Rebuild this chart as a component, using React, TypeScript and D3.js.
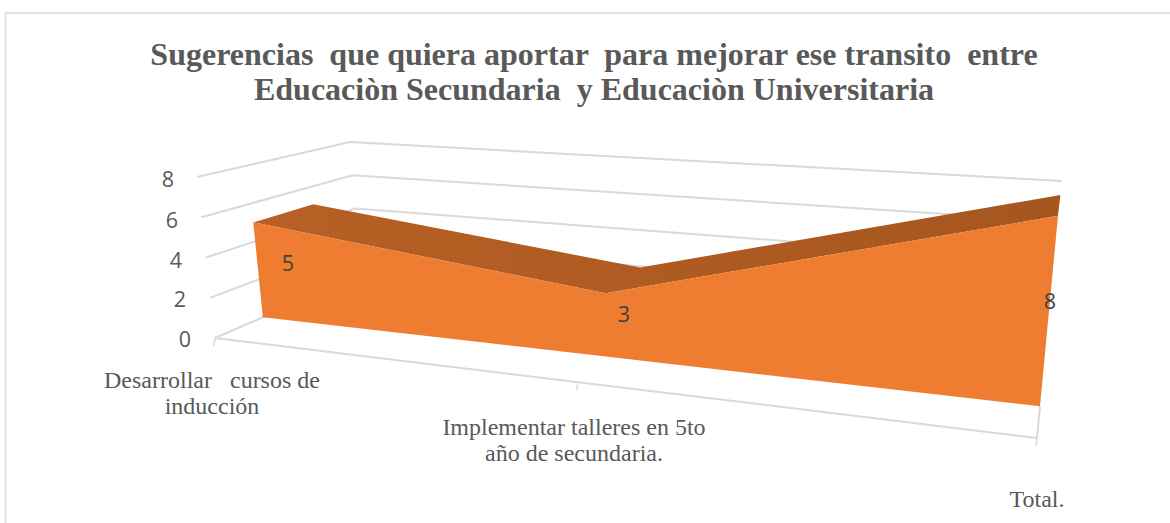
import React from "react";
import * as d3 from "d3";

const categories = ["Desarrollar cursos de inducción", "Implementar talleres en 5to año de secundaria.", "Total."];
const values = [5, 3, 8];
const yTicks = [0, 2, 4, 6, 8];
const titleLines = [
  "Sugerencias  que quiera aportar  para mejorar ese transito  entre",
  "Educaciòn Secundaria  y Educaciòn Universitaria",
];
const categoryLabelLines = [
  ["Desarrollar   cursos de", "inducción"],
  ["Implementar talleres en 5to", "año de secundaria."],
  ["Total."],
];

// Projection box: front/back, left/right, floor/top
type P = [number, number];
const FLB: P = [215, 338], FRB: P = [1037, 438], BLB: P = [360, 275], BRB: P = [1046, 342];
const FLT: P = [197, 177], FRT: P = [1056, 233], BLT: P = [350, 142], BRT: P = [1062, 181];
const PERSP = 0.79;

const uScale = d3.scalePoint<string>().domain(categories).range([0, 1]);
const vScale = d3.scaleLinear().domain([0, 8]).range([0, 1]);
const lerp = (a: P, b: P, t: number): P => [a[0] + (b[0] - a[0]) * t, a[1] + (b[1] - a[1]) * t];

function project(u: number, value: number, depth: number): P {
  const f = (u * PERSP) / (u * PERSP + (1 - u));
  const v = vScale(value);
  const bottom = lerp(lerp(FLB, FRB, f), lerp(BLB, BRB, f), depth);
  const top = lerp(lerp(FLT, FRT, f), lerp(BLT, BRT, f), depth);
  return lerp(bottom, top, v);
}

const AREA_FRONT = 0.33;
const AREA_BACK = 0.73;
const line = d3.line<P>();
const GRID = "#D9D9D9";
const TEXT = "#595959";
const SERIF = "'Liberation Serif', serif";
const SANS = "'Open Sans', sans-serif";
const us = categories.map((c) => uScale(c) as number);

const tickLabelPos: P[] = [[185, 338], [180, 298], [176, 259], [172, 219], [168, 178]];
const categoryLabelPos: { x: number; y: number }[] = [
  { x: 212, y: 388 },
  { x: 574, y: 435 },
  { x: 1037, y: 507 },
];
const dataLabelPos: P[] = [[288, 262], [624, 313], [1050, 300]];

export default function App() {
  const frontTop = us.map((u, i) => project(u, values[i], AREA_FRONT));
  const backTop = us.map((u, i) => project(u, values[i], AREA_BACK));
  const frontBottom = us.map((u) => project(u, 0, AREA_FRONT));
  const facePath = line([...frontTop, ...[...frontBottom].reverse()]) + "Z";
  const topPath = line([...frontTop, ...[...backTop].reverse()]) + "Z";

  return (
    <svg width={1170} height={523} style={{ position: "absolute", left: 0, top: 0, background: "#fff" }}>
      <defs>
        <linearGradient id="topGrad" gradientUnits="userSpaceOnUse" x1="254" x2="1060" y1="0" y2="0">
          <stop offset="0" stopColor="#B86025" />
          <stop offset="1" stopColor="#A5561F" />
        </linearGradient>
      </defs>
      <path d="M5.5,523V13H1170" fill="none" stroke="#E2E2E2" strokeWidth={2} />

      {titleLines.map((t, i) => (
        <text key={i} x={594} y={[65, 100][i]} textAnchor="middle" fontFamily={SERIF} fontWeight="bold"
          fontSize={32} fill={TEXT} style={{ whiteSpace: "pre" }}>{t}</text>
      ))}

      {yTicks.map((t) => (
        <path key={t} d={line([project(0, t, 0), project(0, t, 1), project(1, t, 1)]) ?? ""}
          fill="none" stroke={GRID} strokeWidth={2} />
      ))}
      <path d={line([project(0, 0, 0), project(1, 0, 0)]) ?? ""} fill="none" stroke={GRID} strokeWidth={2} />
      <path d={line([project(1, 0, 0), project(1, 0, AREA_FRONT)]) ?? ""} fill="none" stroke={GRID} strokeWidth={2} />
      {us.map((u, i) => {
        const [x, y] = project(u, 0, 0);
        return <line key={i} x1={x} x2={x - 1} y1={y} y2={y + 8} stroke={GRID} strokeWidth={1.5} />;
      })}

      <path d={topPath} fill="url(#topGrad)" />
      <path d={facePath} fill="#EE7D31" />

      {yTicks.map((t, i) => (
        <text key={t} x={tickLabelPos[i][0]} y={tickLabelPos[i][1]} textAnchor="middle" dominantBaseline="central"
          fontFamily={SANS} fontSize={21.5} fill={TEXT}>{t}</text>
      ))}
      {values.map((v, i) => (
        <text key={i} x={dataLabelPos[i][0]} y={dataLabelPos[i][1]} textAnchor="middle" dominantBaseline="central"
          fontFamily={SANS} fontSize={21.5} fill="#404040">{v}</text>
      ))}
      {categoryLabelLines.map((ls, i) =>
        ls.map((l, j) => (
          <text key={`${i}-${j}`} x={categoryLabelPos[i].x} y={categoryLabelPos[i].y + j * 26} textAnchor="middle"
            fontFamily={SERIF} fontSize={24} fill={TEXT} style={{ whiteSpace: "pre" }}>{l}</text>
        ))
      )}
    </svg>
  );
}
